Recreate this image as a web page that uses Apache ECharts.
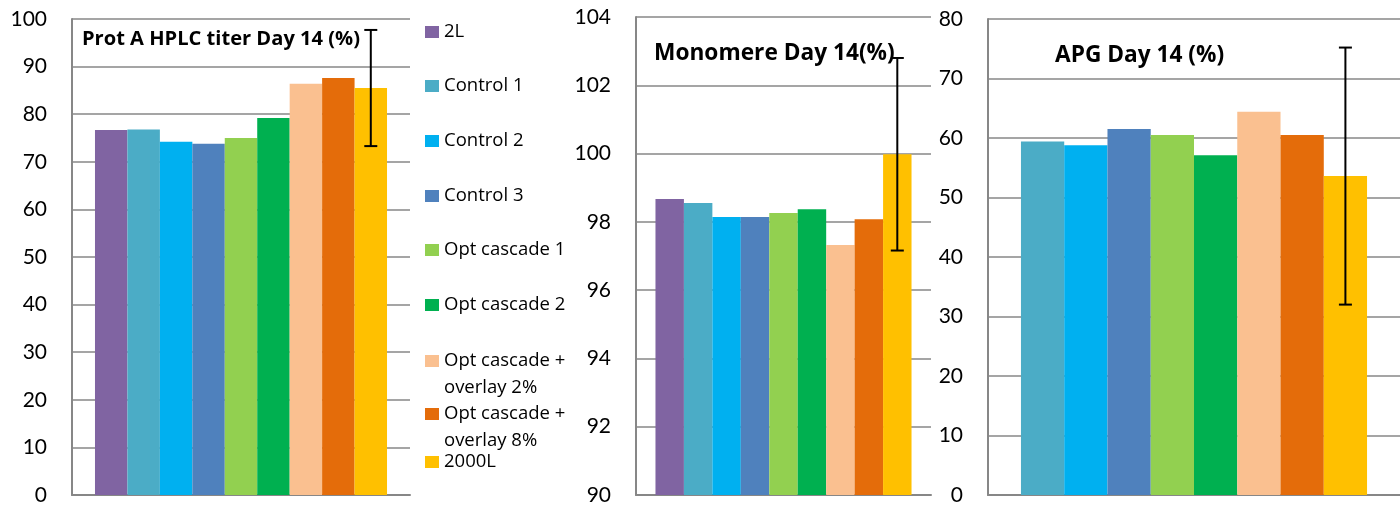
<!DOCTYPE html>
<html>
<head>
<meta charset="utf-8">
<script src="https://cdn.jsdelivr.net/npm/echarts@6/dist/echarts.min.js"></script>
<style>
  html, body { margin: 0; padding: 0; background: #fff; }
  #chart { width: 1400px; height: 507px; }
</style>
</head>
<body>
<div id="chart"></div>
<script>
// Culture conditions (one bar each, same order in every panel)
const groups = [
  '2L', 'Control 1', 'Control 2', 'Control 3',
  'Opt cascade 1', 'Opt cascade 2',
  'Opt cascade + overlay 2%', 'Opt cascade + overlay 8%', '2000L'
];

// Day 14 results per condition (null = not measured)
const titerValues   = [76.7, 76.8, 74.2, 73.8, 75.0, 79.2, 86.4, 87.6, 85.5];
const titerErrors   = [null, null, null, null, null, null, null, null, 12.2];
const monomerValues = [98.67, 98.55, 98.14, 98.14, 98.26, 98.37, 97.32, 98.08, 99.98];
const monomerErrors = [null, null, null, null, null, null, null, null, 2.82];
const apgValues     = [null, 59.4, 58.8, 61.5, 60.5, 57.1, 64.4, 60.5, 53.6];
const apgErrors     = [null, null, null, null, null, null, null, null, 21.6];

// Panel titles
const titerTitle   = 'Prot A HPLC titer Day 14 (%)';
const monomerTitle = 'Monomere Day 14(%)';
const apgTitle     = 'APG Day 14 (%)';

// Styling
const palette = ['#8064A2', '#4BACC6', '#00B0F0', '#4F81BD', '#92D050',
                 '#00B050', '#FAC090', '#E46C0A', '#FFC000'];
const AXIS_FONT = 'Lato, "Liberation Sans", sans-serif';
const TEXT_FONT = '"Open Sans", "Liberation Sans", sans-serif';
const GRID_GRAY = '#878787';

const panels = [
  { title: titerTitle, values: titerValues, errors: titerErrors,
    grid: { left: 72, width: 338, top: 19, bottom: 12 },
    min: 0, max: 100, interval: 10, gap: 0.136,
    titleAt: [82, 29.5], titleSize: 20.1 },
  { title: monomerTitle, values: monomerValues, errors: monomerErrors,
    grid: { left: 636, width: 295, top: 17, bottom: 12 },
    min: 90, max: 104, interval: 2, gap: 0.132,
    titleAt: [654, 42], titleSize: 22.7 },
  { title: apgTitle, values: apgValues, errors: apgErrors,
    grid: { left: 988, right: 0, top: 19, bottom: 12 },
    min: 0, max: 80, interval: 10, gap: 0.16,
    titleAt: [1055, 44], titleSize: 22.7 }
];

// Error bar drawn at the centre of the k-th of n side-by-side bars
function errorBarRenderer(gap) {
  return function (params, api) {
    const v = api.value(1), e = api.value(2), k = api.value(3), n = api.value(4);
    const band = api.size([1, 0])[0];
    const used = band * (1 - gap);
    const barW = used / n;
    const centre = api.coord([0, v])[0];
    const x = centre - used / 2 + (k + 0.5) * barW;
    const yTop = api.coord([0, v + e])[1];
    const yBot = api.coord([0, v - e])[1];
    const cap = 6.5;
    const st = { stroke: '#000', lineWidth: 2 };
    return {
      type: 'group',
      children: [
        { type: 'line', shape: { x1: x, y1: yTop, x2: x, y2: yBot }, style: st },
        { type: 'line', shape: { x1: x - cap, y1: yTop, x2: x + cap, y2: yTop }, style: st },
        { type: 'line', shape: { x1: x - cap, y1: yBot, x2: x + cap, y2: yBot }, style: st }
      ]
    };
  };
}

const grids = [], xAxes = [], yAxes = [], series = [], titles = [];

panels.forEach(function (p, pi) {
  grids.push(Object.assign({ containLabel: false }, p.grid));
  xAxes.push({
    type: 'category', gridIndex: pi, data: [''],
    axisLine: { show: true, lineStyle: { color: GRID_GRAY, width: 2 } },
    axisTick: { show: false }, axisLabel: { show: false }, splitLine: { show: false }
  });
  yAxes.push({
    type: 'value', gridIndex: pi, min: p.min, max: p.max, interval: p.interval,
    axisLine: { show: true, lineStyle: { color: GRID_GRAY, width: 2 } },
    axisTick: { show: false },
    axisLabel: { color: '#000', fontSize: 21, fontFamily: AXIS_FONT, margin: 25 },
    splitLine: { show: true, lineStyle: { color: GRID_GRAY, width: 1.6 } }
  });
  titles.push({
    text: p.title, left: p.titleAt[0], top: p.titleAt[1], padding: 0,
    textStyle: { color: '#000', fontFamily: TEXT_FONT, fontWeight: 'bold', fontSize: p.titleSize }
  });

  const shown = [];
  p.values.forEach(function (v, i) { if (v != null) shown.push(i); });
  const errData = [];
  shown.forEach(function (i, k) {
    series.push({
      type: 'bar', name: groups[i], xAxisIndex: pi, yAxisIndex: pi,
      data: [p.values[i]], itemStyle: { color: palette[i] },
      barGap: '0%', barCategoryGap: (p.gap * 100) + '%'
    });
    if (p.errors[i] != null) errData.push([0, p.values[i], p.errors[i], k, shown.length]);
  });
  series.push({
    type: 'custom', xAxisIndex: pi, yAxisIndex: pi, data: errData,
    encode: { x: 0, y: 1 }, z: 10, silent: true, clip: false,
    renderItem: errorBarRenderer(p.gap)
  });
});

// Legend column between the first two panels: one block per condition.
// Two-line names get a taller key whose swatch sits level with the first line.
const legendCentres = [32, 86, 141, 196, 250, 305, 361, 414, 462];
const LINE_H = 27, KEY_W = 14, KEY_H = 12;
const tallKey = 'path://M0,0H' + KEY_W + 'V' + KEY_H + 'H0Z M0,' + (KEY_H + LINE_H) + 'L' + KEY_W + ',' + (KEY_H + LINE_H);
const legends = groups.map(function (g, i) {
  const twoLine = g.indexOf(' overlay') > 0;
  return {
    data: [g], left: 425, top: legendCentres[i] - LINE_H / 2,
    orient: 'vertical', padding: 0, itemWidth: KEY_W,
    itemHeight: twoLine ? KEY_H + LINE_H : KEY_H,
    icon: twoLine ? tallKey : 'rect',
    selectedMode: false,
    formatter: function (name) { return name.replace(' overlay', '\noverlay'); },
    textStyle: { color: '#000', fontFamily: TEXT_FONT, fontSize: 18.5, lineHeight: LINE_H }
  };
});

const chart = echarts.init(document.getElementById('chart'), null, { renderer: 'canvas' });
chart.setOption({
  animation: false,
  backgroundColor: '#fff',
  title: titles,
  legend: legends,
  grid: grids,
  xAxis: xAxes,
  yAxis: yAxes,
  series: series
});
</script>
</body>
</html>
